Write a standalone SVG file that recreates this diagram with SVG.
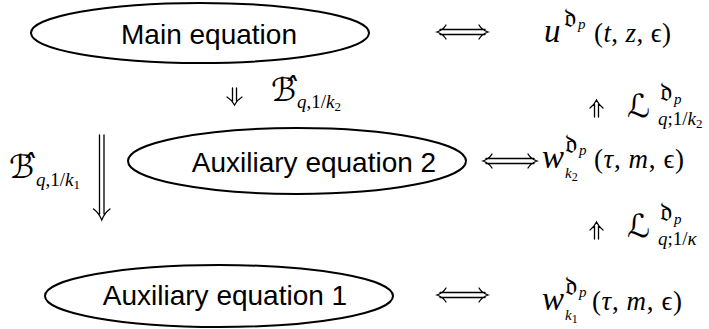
<svg xmlns="http://www.w3.org/2000/svg" width="709" height="329" viewBox="0 0 709 329">
<style>
.node ellipse{fill:none;stroke:#000;stroke-width:2}
.lbl{font-family:"Liberation Sans",Arial,sans-serif;font-size:28px;text-anchor:middle;fill:#000}
.m{font-family:"Liberation Serif","DejaVu Serif",serif;font-size:27px;fill:#000}
.v{font-size:33px;font-style:italic}
.i{font-style:italic}
.sc{font-family:"DejaVu Serif","DejaVu Sans",serif;font-size:32px;font-style:italic}
.fk{font-family:"DejaVu Sans","DejaVu Serif",serif;font-size:27px}
.s{font-size:19px}
.ss{font-size:15px}
.conn path{fill:none;stroke:#000;stroke-width:1.3;stroke-linecap:round}
</style>
<rect width="709" height="329" fill="#fff"/>
<g id="main-equation" class="node">
<ellipse cx="200" cy="33" rx="169" ry="30"/>
<text class="lbl" x="209" y="44">Main equation</text>
</g>
<g id="aux-equation-2" class="node">
<ellipse cx="297" cy="161" rx="169" ry="33"/>
<text class="lbl" x="314" y="172">Auxiliary equation 2</text>
</g>
<g id="aux-equation-1" class="node">
<ellipse cx="219" cy="296" rx="174" ry="31"/>
<text class="lbl" x="225" y="305">Auxiliary equation 1</text>
</g>
<g id="u-solution">
<text class="m v" x="544" y="42">u</text>
<text class="m fk" x="564" y="27">𝔡</text>
<text class="m i ss" x="578" y="29">p</text>
<text class="m" x="594" y="42" textLength="77">(<tspan class="i">t</tspan>, <tspan class="i">z</tspan>, ϵ)</text>
</g>
<g id="w-k2">
<text class="m v" x="542" y="168">w</text>
<text class="m fk" x="565" y="153">𝔡</text>
<text class="m i ss" x="579" y="155">p</text>
<text class="m i ss" x="565" y="178" font-size="17">k<tspan font-style="normal" font-size="12" dy="3">2</tspan></text>
<text class="m" x="594" y="168" textLength="90">(<tspan class="i">τ</tspan>, <tspan class="i">m</tspan>, ϵ)</text>
</g>
<g id="w-k1">
<text class="m v" x="542" y="310">w</text>
<text class="m fk" x="565" y="295">𝔡</text>
<text class="m i ss" x="579" y="297">p</text>
<text class="m i ss" x="565" y="320" font-size="17">k<tspan font-style="normal" font-size="12" dy="3">1</tspan></text>
<text class="m" x="592" y="310" textLength="90">(<tspan class="i">τ</tspan>, <tspan class="i">m</tspan>, ϵ)</text>
</g>
<g id="connectors" class="conn">
<path d="M440 29.5H485M440 34.5H485M446 25Q443 30 437 32Q443 34 446 39M479 25Q482 30 488 32Q482 34 479 39"/>
<path d="M486 158.5H534M486 163.5H534M492 154Q489 159 483 161Q489 163 492 168M528 154Q531 159 537 161Q531 163 528 168"/>
<path d="M440 292.5H485M440 297.5H485M446 288Q443 293 437 295Q443 297 446 302M479 288Q482 293 488 295Q482 297 479 302"/>
<path d="M232.5 88V101M236.5 88V101M227 97Q232 100 234.5 105Q237 100 242 97"/>
<path d="M99.5 135V214M104 135V214M93.5 209Q99 213 101.75 220Q104.5 213 110 209"/>
<path d="M594.5 104V117M598.5 104V117M590 108Q594 105 596.5 100Q599 105 603 108"/>
<path d="M594.5 226V239M598.5 226V239M590 230Q594 227 596.5 222Q599 227 603 230"/>
</g>
<g id="label-B-k2">
<text class="m sc" x="271" y="101">ℬ̂</text>
<text class="m s" x="297" y="108"><tspan class="i">q</tspan>,1/<tspan class="i">k</tspan><tspan font-size="13" dy="3">2</tspan></text>
</g>
<g id="label-B-k1">
<text class="m sc" x="9" y="178">ℬ̂</text>
<text class="m s" x="36" y="186"><tspan class="i">q</tspan>,1/<tspan class="i">k</tspan><tspan font-size="13" dy="3">1</tspan></text>
</g>
<g id="label-L-k2">
<text class="m sc" x="627" y="117">ℒ</text>
<text class="m fk" x="660" y="101">𝔡</text>
<text class="m i ss" x="674" y="104">p</text>
<text class="m s" x="658" y="125"><tspan class="i">q</tspan>;1/<tspan class="i">k</tspan><tspan font-size="13" dy="3">2</tspan></text>
</g>
<g id="label-L-kappa">
<text class="m sc" x="627" y="237">ℒ</text>
<text class="m fk" x="660" y="221">𝔡</text>
<text class="m i ss" x="674" y="224">p</text>
<text class="m s" x="658" y="245"><tspan class="i">q</tspan>;1/<tspan class="i">κ</tspan></text>
</g>
</svg>
